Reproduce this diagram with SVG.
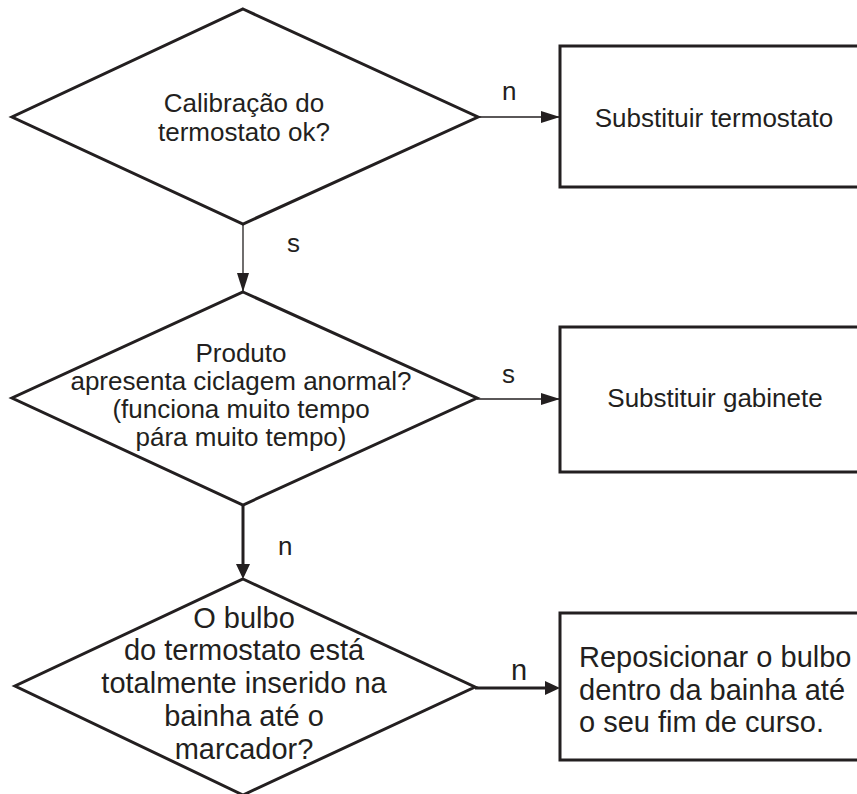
<svg xmlns="http://www.w3.org/2000/svg" width="857" height="794" viewBox="0 0 857 794">
  <style>
    .shape { fill: #ffffff; stroke: #231f20; stroke-width: 3; stroke-linejoin: miter; }
    .t { font-family: "Liberation Sans", Arial, sans-serif; fill: #231f20; }
    .s26 { font-size: 26px; }
    .s29 { font-size: 29px; }
    .mid { text-anchor: middle; }
    .thin { stroke: #231f20; stroke-width: 1.3; fill: none; }
    .thick { stroke: #231f20; stroke-width: 3; fill: none; }
  </style>
  <defs>
    <marker id="ahThin" markerUnits="userSpaceOnUse" markerWidth="19" markerHeight="12" refX="19" refY="6" orient="auto">
      <path d="M0,0 L19,6 L0,12 z" fill="#231f20"/>
    </marker>
    <marker id="ahThick" markerUnits="userSpaceOnUse" markerWidth="15" markerHeight="14" refX="11" refY="7" orient="auto">
      <path d="M0,0 L15,7 L0,14 z" fill="#231f20"/>
    </marker>
  </defs>
  <rect width="857" height="794" fill="#ffffff"/>

  <g id="connectors">
    <line class="thin" x1="243" y1="224" x2="243" y2="292" marker-end="url(#ahThin)"/>
    <line class="thin" x1="478" y1="117" x2="560" y2="117" marker-end="url(#ahThin)"/>
    <line class="thin" x1="477" y1="399" x2="560" y2="399" marker-end="url(#ahThin)"/>
    <line class="thick" x1="243" y1="506" x2="243" y2="575" marker-end="url(#ahThick)"/>
    <line class="thick" x1="475" y1="688" x2="556" y2="688" marker-end="url(#ahThick)"/>
    <text class="t s26" x="287" y="252">s</text>
    <text class="t s26" x="502" y="100">n</text>
    <text class="t s26" x="502" y="383">s</text>
    <text class="t s26" x="278" y="555">n</text>
    <text class="t s29" x="511" y="680">n</text>
  </g>

  <g id="decision1">
    <polygon class="shape" points="243,9 478,117 243,224 12,117"/>
    <text class="t s26 mid" x="244" y="112">Calibração do</text>
    <text class="t s26 mid" x="244" y="141">termostato ok?</text>
  </g>

  <g id="action1">
    <rect class="shape" x="560" y="46" width="320" height="141"/>
    <text class="t s26 mid" x="714" y="127">Substituir termostato</text>
  </g>

  <g id="decision2">
    <polygon class="shape" points="243,292 477,398 243,505 12,398"/>
    <text class="t s26 mid" x="241" y="362">Produto</text>
    <text class="t s26 mid" x="241" y="390">apresenta ciclagem anormal?</text>
    <text class="t s26 mid" x="241" y="418">(funciona muito tempo</text>
    <text class="t s26 mid" x="241" y="446">pára muito tempo)</text>
  </g>

  <g id="action2">
    <rect class="shape" x="560" y="327" width="320" height="145"/>
    <text class="t s26 mid" x="715" y="407">Substituir gabinete</text>
  </g>

  <g id="decision3">
    <polygon class="shape" points="243,579 475,687 243,795 15,686"/>
    <text class="t s29 mid" x="244" y="628">O bulbo</text>
    <text class="t s29 mid" x="244" y="660">do termostato está</text>
    <text class="t s29 mid" x="244" y="693">totalmente inserido na</text>
    <text class="t s29 mid" x="244" y="726">bainha até o</text>
    <text class="t s29 mid" x="244" y="759">marcador?</text>
  </g>

  <g id="action3">
    <rect class="shape" x="560" y="613" width="320" height="147"/>
    <text class="t s29" x="579" y="667">Reposicionar o bulbo</text>
    <text class="t s29" x="579" y="700">dentro da bainha até</text>
    <text class="t s29" x="579" y="732">o seu fim de curso.</text>
  </g>
</svg>
